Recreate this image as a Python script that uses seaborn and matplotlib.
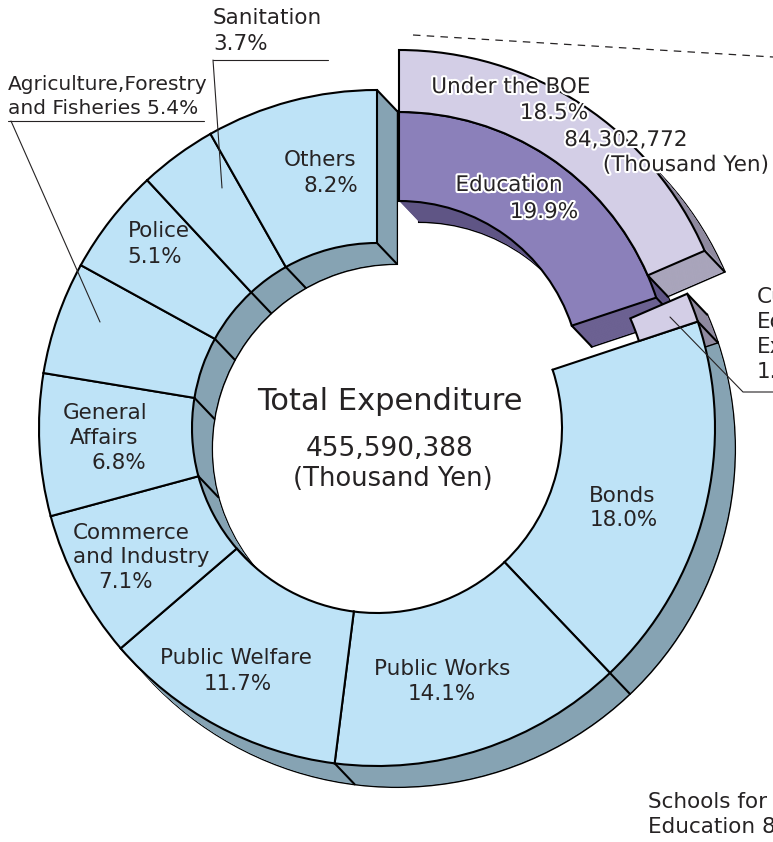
import numpy as np
import matplotlib
matplotlib.use("Agg")
import matplotlib.pyplot as plt
import matplotlib.patheffects as pe
from matplotlib.patches import Wedge
import seaborn as sns

# ---------------- data ----------------
categories = ["Education", "Bonds", "Public Works", "Public Welfare",
              "Commerce and Industry", "General Affairs",
              "Agriculture,Forestry and Fisheries", "Police", "Sanitation", "Others"]
shares = [19.9, 18.0, 14.1, 11.7, 7.1, 6.8, 5.4, 5.1, 3.7, 8.2]
edu_parts = ["Under the BOE", "Cultural Education Expenses"]
edu_shares = [18.5, 1.4]
total_expenditure = "455,590,388"
boe_amount = "84,302,772"
special_schools_share = 8.9

# ---------------- style ----------------
sns.set_theme(style="white")
plt.rcParams["font.family"] = ["DejaVu Sans"]

W, H = 773, 842
fig = plt.figure(figsize=(W / 100, H / 100), dpi=100)
ax = fig.add_axes([0, 0, 1, 1])


def Y(y):
    return H - y


LW = 1.5
TXT = "#262324"
TOP = "#bee3f7"
SIDE = "#86a3b3"
PUR = "#8b80ba"
PUR_SIDE = "#5f5585"
PUR_END = "#736899"
LAV = "#d3cee6"
LAV_SIDE = "#8f8a9f"
LAV_END = "#b5b1c8"
OFF = (20, -21)

C_MAIN = (377, Y(428))
R_O, R_I = 338, 185
C_EXP = (399, Y(383))
R_EI, R_EM, R_EO = 182, 271, 333

shares_arr = np.array(shares)
bounds = 90 - 3.6 * np.concatenate([[0], np.cumsum(shares_arr)])
edu_bounds = 90 - 3.6 * np.concatenate([[0], np.cumsum(edu_shares)])


def extrude(center, r, width, t1, t2, side, end_color=None, end_angle=None, n=60):
    ts = np.linspace(1, 0, n, endpoint=False)
    for i, t in enumerate(ts):
        c = (center[0] + t * OFF[0], center[1] + t * OFF[1])
        if i == 0:
            ax.add_patch(Wedge(c, r, t1, t2, width=width, facecolor=side,
                               edgecolor="black", lw=LW, zorder=1))
        else:
            ax.add_patch(Wedge(c, r, t1, t2, width=width, facecolor=side,
                               edgecolor="none", lw=0, zorder=1))
            if end_color is not None:
                ax.add_patch(Wedge(c, r, end_angle, end_angle + 1.0, width=width,
                                   facecolor=end_color, edgecolor="none",
                                   lw=0, zorder=1))


def corner_lines(center, radii, angles):
    for a in angles:
        u = np.array([np.cos(np.radians(a)), np.sin(np.radians(a))])
        for r in radii:
            p = np.array(center) + r * u
            ax.plot([p[0], p[0] + OFF[0]], [p[1], p[1] + OFF[1]],
                    color="black", lw=LW, solid_capstyle="round", zorder=1)


# ---------------- main ring (sides) ----------------
extrude(C_MAIN, R_O, R_O - R_I, bounds[-1], bounds[1], SIDE)
corner_lines(C_MAIN, [R_O, R_I], bounds[1:])

# small remaining education piece (sides, hidden by Bonds where they touch)
extrude(C_MAIN, R_O, 62, edu_bounds[2], edu_bounds[1], LAV_SIDE)
corner_lines(C_MAIN, [R_O], [edu_bounds[2], edu_bounds[1]])

# main ring top face
wedges, _ = ax.pie(shares, startangle=90, counterclock=False, center=C_MAIN,
                   radius=R_O, colors=[PUR] + [TOP] * (len(shares) - 1),
                   wedgeprops=dict(width=R_O - R_I, edgecolor="black", linewidth=LW),
                   frame=True)
wedges[0].set_visible(False)

# ---------------- exploded education ----------------
extrude(C_EXP, R_EM, R_EM - R_EI, bounds[1], bounds[0], PUR_SIDE, PUR_END, bounds[1])
extrude(C_EXP, R_EO, R_EO - R_EM, edu_bounds[1], edu_bounds[0], LAV_SIDE, LAV_END, edu_bounds[1])
corner_lines(C_EXP, [R_EM, R_EI], [bounds[1]])
corner_lines(C_EXP, [R_EO, R_EM], [edu_bounds[1]])
pw, _ = ax.pie([shares[0], 100 - shares[0]], startangle=90, counterclock=False,
               center=C_EXP, radius=R_EM, colors=[PUR, "white"],
               wedgeprops=dict(width=R_EM - R_EI, edgecolor="black", linewidth=LW),
               frame=True)
pw[1].set_visible(False)
lw_, _ = ax.pie(edu_shares + [100 - sum(edu_shares)], startangle=90, counterclock=False,
                center=C_EXP, radius=R_EO, colors=[LAV, LAV, "white"],
                wedgeprops=dict(width=R_EO - R_EM, edgecolor="black", linewidth=LW),
                frame=True)
lw_[1].set_visible(False)
lw_[2].set_visible(False)

# small piece top face
sw, _ = ax.pie(edu_shares + [100 - sum(edu_shares)], startangle=90, counterclock=False,
               center=C_MAIN, radius=R_O, colors=[LAV, LAV, "white"],
               wedgeprops=dict(width=62, edgecolor="black", linewidth=LW),
               frame=True)
sw[0].set_visible(False)
sw[2].set_visible(False)

# ---------------- labels ----------------
FS = 15.5


def t(x, y, s, size=FS, ha="center", **kw):
    ax.text(x, Y(y), s, fontsize=size, ha=ha, va="center", color=TXT,
            zorder=5, **kw)


pct = {c: f"{v:.1f}%" for c, v in zip(categories, shares)}

t(320, 160, "Others")
t(331, 186, pct["Others"])
t(159, 231, "Police")
t(155, 257, pct["Police"])
t(105, 413, "General")
t(104, 438, "Affairs")
t(119, 463, pct["General Affairs"])
t(131, 533, "Commerce")
t(141, 557, "and Industry")
t(126, 582, pct["Commerce and Industry"])
t(236, 658, "Public Welfare")
t(238, 684, pct["Public Welfare"])
t(442, 669, "Public Works")
t(442, 694, pct["Public Works"])
t(622, 496, "Bonds")
t(624, 520, pct["Bonds"])

t(390, 401, "Total Expenditure", size=22)
t(390, 449, total_expenditure, size=19)
t(393, 479, "(Thousand Yen)", size=18.5)

t(213, 18, "Sanitation", ha="left")
t(213, 44, pct["Sanitation"], ha="left")
ax.plot([213, 328], [Y(60), Y(60)], color=TXT, lw=0.8, zorder=5)
ax.plot([213, 222], [Y(60), Y(188)], color=TXT, lw=0.8, zorder=5)

t(8, 84, "Agriculture,Forestry", ha="left", size=14.5)
t(8, 108, "and Fisheries " + pct["Agriculture,Forestry and Fisheries"], ha="left", size=14.5)
ax.plot([8, 204], [Y(121), Y(121)], color=TXT, lw=0.8, zorder=5)
ax.plot([11, 100], [Y(121), Y(322)], color=TXT, lw=0.8, zorder=5)

stroke = [pe.withStroke(linewidth=3, foreground="white")]
t(511, 87, edu_parts[0], path_effects=stroke)
t(554, 113, f"{edu_shares[0]:.1f}%", path_effects=stroke)
t(626, 140, boe_amount, path_effects=stroke)
t(686, 165, "(Thousand Yen)", path_effects=stroke)
t(509, 185, categories[0], path_effects=stroke)
t(544, 212, pct["Education"], path_effects=stroke)

ax.plot([413, 773], [Y(35), Y(57)], color=TXT, lw=0.9, ls=(0, (6, 5)), zorder=5)

ax.plot([670, 743, 780], [Y(317), Y(392), Y(392)], color=TXT, lw=0.8, zorder=5)
t(757, 297, "Cultural", ha="left")
t(757, 322, "Education", ha="left")
t(757, 347, "Expenses", ha="left")
t(757, 372, f"{edu_shares[1]:.1f}%", ha="left")

t(648, 802, "Schools for Special", ha="left")
t(648, 827, f"Education {special_schools_share:.1f}%", ha="left")

ax.set_xlim(0, W)
ax.set_ylim(0, H)
ax.set_aspect("equal")
ax.axis("off")
fig.savefig("out.png", dpi=100, facecolor="white")
